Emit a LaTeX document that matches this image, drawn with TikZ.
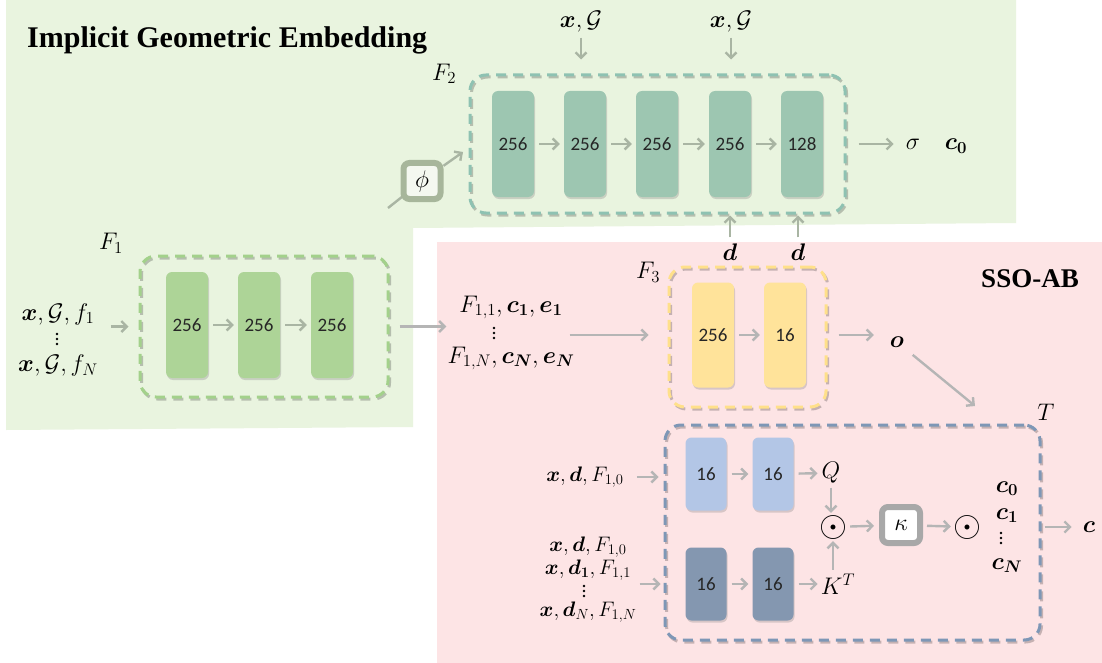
\RequirePackage{fix-cm}
\documentclass[tikz,border=0pt]{standalone}
\usepackage{amsmath}
\usepackage{fontspec}
\newfontfamily\titlefont{Liberation Serif}
\newfontfamily\numfont{Carlito}
\usetikzlibrary{arrows.meta,shadows}
\definecolor{bggreen}{HTML}{E9F4DF}
\definecolor{bgpink}{HTML}{FDE4E5}
\definecolor{arrg}{HTML}{A9B5A3}
\definecolor{arrp}{HTML}{B5B5B5}
\definecolor{ftwoblk}{HTML}{9DC6B1}
\definecolor{ftwodash}{HTML}{8EC2B2}
\definecolor{foneblk}{HTML}{ADD497}
\definecolor{fonedash}{HTML}{A3D18B}
\definecolor{fthreeblk}{HTML}{FFE39A}
\definecolor{fthreedash}{HTML}{FFE08A}
\definecolor{tqblk}{HTML}{B3C6E6}
\definecolor{tkblk}{HTML}{8497B0}
\definecolor{tdash}{HTML}{7E97B6}
\definecolor{phiborder}{HTML}{A7B69B}
\definecolor{phifill}{HTML}{F4F8F0}
\definecolor{kapborder}{HTML}{A8A8A8}
\newcommand{\vdotsat}[1]{\foreach \dy in {-5,0,5} {\fill[black] ([yshift=\dy pt]#1) circle (1.4pt);}}
\begin{document}
\begin{tikzpicture}[x=1pt,y=-1pt,
  arr/.style={line width=2.4pt,-{Straight Barb[length=5.5pt,width=11pt]},shorten <=5pt,shorten >=4pt},
  garr/.style={arr,draw=arrg},
  parr/.style={arr,draw=arrp},
  block/.style={rounded corners=6pt,minimum width=42pt,minimum height=106pt,inner sep=0pt,
    font=\numfont\fontsize{19}{22}\selectfont,text=black!85,
    drop shadow={shadow xshift=1pt,shadow yshift=-2pt,opacity=.3}},
  tblock/.style={block,minimum width=41pt,minimum height=73pt},
  dbox/.style={line width=3pt,dash pattern=on 10pt off 7pt,rounded corners=16pt,inner sep=0pt,
    preaction={draw=black,opacity=.22,transform canvas={shift={(1.5pt,-2pt)}}}},
  lab/.style={font=\fontsize{24}{26}\selectfont,inner sep=1pt},
  odotlab/.style={font=\fontsize{36}{38}\selectfont,inner sep=0pt},
  keybox/.style={line width=6pt,rounded corners=6pt,minimum width=37pt,minimum height=36pt,
    inner sep=0pt,font=\fontsize{24}{26}\selectfont}
]
\useasboundingbox (0,0) rectangle (1102,663);
\fill[white] (0,0) rectangle (1102,663);
% backgrounds
\fill[bggreen] (6,0) -- (1016,0) -- (1016,223) -- (413,228) -- (413,427) -- (6,430) -- cycle;
\fill[bgpink] (437,242) rectangle (1102,663);

\node[anchor=base west,inner sep=0pt,font=\titlefont\bfseries\fontsize{30}{34}\selectfont] (title) at (27,48) {Implicit Geometric Embedding};
\node[inner sep=0pt,font=\titlefont\bfseries\fontsize{27}{30}\selectfont] (sso) at (1030,279) {SSO-AB};

% ---------- F2 ----------
\node[dbox,draw=ftwodash,minimum width=375pt,minimum height=138pt] (f2box) at (657.5,144) {};
\node[block,fill=ftwoblk] (b21) at (513,144) {256};
\node[block,fill=ftwoblk] (b22) at (585,144) {256};
\node[block,fill=ftwoblk] (b23) at (657,144) {256};
\node[block,fill=ftwoblk] (b24) at (730,144) {256};
\node[block,fill=ftwoblk] (b25) at (802,144) {128};
\draw[garr] (b21) -- (b22);
\draw[garr] (b22) -- (b23);
\draw[garr] (b23) -- (b24);
\draw[garr] (b24) -- (b25);
\node[lab] (lf2) at (444,74) {$F_2$};
\node[lab] (xg1) at (581,22) {$\boldsymbol{x},\mathcal{G}$};
\node[lab] (xg2) at (731,22) {$\boldsymbol{x},\mathcal{G}$};
\draw[garr,shorten <=4pt,shorten >=14pt] (xg1.south) -- (xg1.south |- f2box.north);
\draw[garr,shorten <=4pt,shorten >=14pt] (xg2.south) -- (xg2.south |- f2box.north);
\node[lab] (sigma) at (913,144) {$\sigma$};
\node[lab] (czero) at (956,146) {$\boldsymbol{c_0}$};
\draw[garr,shorten <=12pt,shorten >=11pt] (f2box.east) -- (sigma.west);
\node[lab] (d1) at (730,252) {$\boldsymbol{d}$};
\node[lab] (d2) at (798,252) {$\boldsymbol{d}$};
\draw[garr,shorten <=5pt,shorten >=1pt] (d1.north) -- (d1.north |- f2box.south);
\draw[garr,shorten <=5pt,shorten >=1pt] (d2.north) -- (d2.north |- f2box.south);

% phi
\coordinate (phiin) at (388,208);
\coordinate (phiout) at (463,152);
\draw[arrg,line width=2.4pt] (phiin) -- (422,181);
\node[keybox,draw=phiborder,fill=phifill] (phi) at (422,181) {$\phi$};
\draw[garr,shorten <=0pt,shorten >=0pt] (phi) -- (phiout);

% ---------- F1 ----------
\node[dbox,draw=fonedash,minimum width=248pt,minimum height=141pt] (f1box) at (264,326.5) {};
\node[block,fill=foneblk] (b11) at (187,325) {256};
\node[block,fill=foneblk] (b12) at (259,325) {256};
\node[block,fill=foneblk] (b13) at (332,325) {256};
\draw[garr] (b11) -- (b12);
\draw[garr] (b12) -- (b13);
\node[lab] (lf1) at (111,243) {$F_1$};
\node[lab,align=center,font=\fontsize{24}{24.5}\selectfont] (f1in) at (58,340) {$\boldsymbol{x},\mathcal{G},f_1$\\[27pt]$\boldsymbol{x},\mathcal{G},f_N$};
\coordinate (f1dots) at (57,339);
\vdotsat{f1dots}
\draw[garr,shorten <=12pt,shorten >=10pt] (f1in.east |- f1box.west) -- (f1box.west);

% ---------- F3 ----------
\node[lab,align=center,font=\fontsize{24}{25.5}\selectfont] (f3in) at (511,333) {$F_{1,1},\boldsymbol{c_1},\boldsymbol{e_1}$\\[25.5pt]$F_{1,N},\boldsymbol{c_N},\boldsymbol{e_N}$};
\coordinate (f3dots) at (494,333);
\vdotsat{f3dots}
\draw[parr,shorten <=10pt,shorten >=0pt] (f1box.east) -- (f1box.east -| f3in.west);
\node[dbox,draw=fthreedash,minimum width=157pt,minimum height=140pt] (f3box) at (747.5,337) {};
\node[block,fill=fthreeblk,minimum height=105pt] (b31) at (713,335) {256};
\node[block,fill=fthreeblk,minimum height=105pt] (b32) at (785,335) {16};
\draw[parr] (b31) -- (b32);
\node[lab] (lf3) at (648,272) {$F_3$};
\draw[parr,shorten <=-6pt,shorten >=19pt] (f3in.east |- b31) -- (f3box.west |- b31);
\node[lab] (o) at (897,342) {$\boldsymbol{o}$};
\draw[parr,shorten <=11pt,shorten >=15pt] (f3box.east |- b32) -- (o.west |- b32);
\coordinate (tin) at (975,406);
\draw[parr,shorten <=10pt,shorten >=0pt] (o) -- (tin);

% ---------- T ----------
\node[dbox,draw=tdash,minimum width=375pt,minimum height=215pt] (tbox) at (852.5,532.5) {};
\node[lab] (lt) at (1046,412) {$T$};
\node[tblock,fill=tqblk] (bq1) at (706,474) {16};
\node[tblock,fill=tqblk] (bq2) at (773,474) {16};
\node[tblock,fill=tkblk] (bk1) at (706,584) {16};
\node[tblock,fill=tkblk] (bk2) at (773,584) {16};
\draw[parr] (bq1) -- (bq2);
\draw[parr] (bk1) -- (bk2);
\node[lab] (q) at (831,473) {$Q$};
\node[lab] (k) at (838,584) {$K^T$};
\draw[parr,shorten >=3pt] (bq2) -- (q);
\draw[parr,shorten >=2pt] (bk2.east) -- (k.west |- bk2.east);
\node[odotlab] (od1) at (833,527) {$\odot$};
\node[keybox,draw=kapborder,fill=white,minimum width=38pt,minimum height=36pt] (kap) at (901,525) {$\kappa$};
\node[odotlab] (od2) at (967,527) {$\odot$};
\draw[parr,shorten <=3pt,shorten >=2pt] (q) -- (q |- od1.north);
\draw[parr,shorten <=3pt,shorten >=2pt] (k.north -| od1) -- (od1.south);
\draw[parr,shorten <=3pt,shorten >=5pt] (od1) -- (kap);
\draw[parr,shorten <=4pt,shorten >=2pt] (kap) -- (od2);
\node[lab,align=center,font=\fontsize{24}{27}\selectfont] (ccol) at (1007,527) {$\boldsymbol{c_0}$\\$\boldsymbol{c_1}$\\[23pt]$\boldsymbol{c_N}$};
\coordinate (cdots) at (1001,538);
\vdotsat{cdots}
\node[lab] (cout) at (1089,527) {$\boldsymbol{c}$};
\draw[parr,shorten <=3pt,shorten >=10pt] (tbox.east |- cout) -- (cout);
\node[lab,font=\fontsize{21}{23}\selectfont] (tin1) at (585,477) {$\boldsymbol{x},\boldsymbol{d},F_{1,0}$};
\node[lab,align=center,font=\fontsize{21}{23}\selectfont] (tin2) at (588,580) {$\boldsymbol{x},\boldsymbol{d},F_{1,0}$\\$\boldsymbol{x},\boldsymbol{d_1},F_{1,1}$\\[19pt]$\boldsymbol{x},\boldsymbol{d}_N,F_{1,N}$};
\coordinate (tdots) at (584,591);
\vdotsat{tdots}
\draw[parr,shorten <=12pt,shorten >=5pt] (tin1.east) -- (tbox.west |- tin1.east);
\draw[parr,shorten <=2pt,shorten >=3pt] (tin2.east |- bk1) -- (tbox.west |- bk1);
\end{tikzpicture}
\end{document}
